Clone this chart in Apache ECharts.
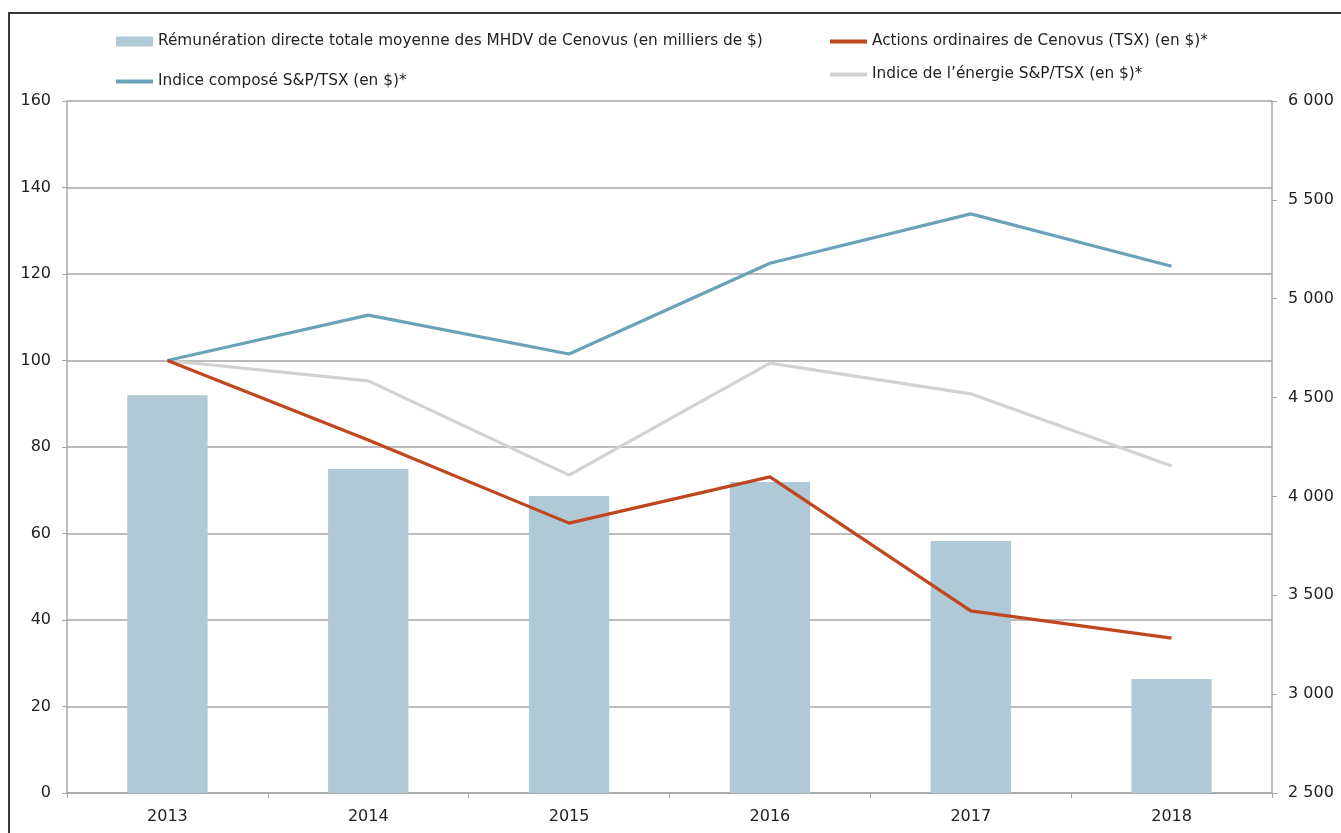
<!DOCTYPE html>
<html>
<head>
<meta charset="utf-8">
<script src="https://cdn.jsdelivr.net/npm/echarts@6/dist/echarts.min.js"></script>
<style>
html,body{margin:0;padding:0;background:#fff;overflow:hidden;width:1341px;height:833px;}
#frame{position:absolute;left:8px;top:12px;width:1400px;height:900px;border-left:2px solid #3a3a3a;border-top:2px solid #3a3a3a;}
#chart{position:absolute;left:0;top:0;width:1341px;height:833px;}
</style>
</head>
<body>
<div id="frame"></div>
<div id="chart"></div>
<script>
const years = ['2013','2014','2015','2016','2017','2018'];
const remuneration = [4512, 4139, 4002, 4073, 3775, 3077];
const cenovus = [100, 81.6, 62.4, 73.1, 42.1, 35.8];
const composite = [100, 110.5, 101.5, 122.5, 133.9, 121.8];
const energy = [100, 95.3, 73.5, 99.4, 92.3, 75.6];
const names = [
  'Rémunération directe totale moyenne des MHDV de Cenovus (en milliers de $)',
  'Actions ordinaires de Cenovus (TSX) (en $)*',
  'Indice composé S&P/TSX (en $)*',
  'Indice de l’énergie S&P/TSX (en $)*'
];
const colors = {bar:'#b0c9d6', cenovus:'#c0461f', composite:'#6aa3b9', energy:'#d2d2d2'};
const font = 'DejaVu Sans';
const fmtSpace = v => String(v).replace(/\B(?=(\d{3})+(?!\d))/g, '\u00a0');

const chart = echarts.init(document.getElementById('chart'));
const legendBase = {itemWidth:37, itemGap:0, padding:0, textStyle:{fontFamily:font, fontSize:15.3, color:'#222'}};
chart.setOption({
  animation:false,
  textStyle:{fontFamily:font},
  legend:[
    Object.assign({}, legendBase, {left:116, top:34, data:[{name:names[0], icon:'rect'}], itemHeight:10}),
    Object.assign({}, legendBase, {left:830, top:34, data:[{name:names[1], icon:'rect'}], itemHeight:4}),
    Object.assign({}, legendBase, {left:116, top:74, data:[{name:names[2], icon:'rect'}], itemHeight:4}),
    Object.assign({}, legendBase, {left:830, top:67, data:[{name:names[3], icon:'rect'}], itemHeight:4})
  ],
  grid:{left:67, right:69, top:101, bottom:40, containLabel:false},
  xAxis:{
    type:'category', data:years, boundaryGap:true,
    axisLine:{lineStyle:{color:'#a6a6a6', width:1.5}},
    axisTick:{show:true, length:5, lineStyle:{color:'#a6a6a6'}},
    axisLabel:{fontSize:16, color:'#222', margin:16, fontFamily:font}
  },
  yAxis:[
    {type:'value', min:0, max:160, interval:20, position:'left',
     axisLine:{show:true, lineStyle:{color:'#a6a6a6', width:1.5}},
     axisTick:{show:true, length:5, lineStyle:{color:'#a6a6a6'}},
     splitLine:{show:true, lineStyle:{color:'#a6a6a6', width:1.5}},
     axisLabel:{fontSize:16, color:'#222', margin:16, fontFamily:font}},
    {type:'value', min:2500, max:6000, interval:500, position:'right',
     axisLine:{show:true, lineStyle:{color:'#a6a6a6', width:1.5}},
     axisTick:{show:true, length:5, lineStyle:{color:'#a6a6a6'}},
     splitLine:{show:false},
     axisLabel:{fontSize:16, color:'#222', margin:16, fontFamily:font, formatter:fmtSpace}}
  ],
  series:[
    {name:names[0], type:'bar', yAxisIndex:1, data:remuneration, barWidth:'40%', itemStyle:{color:colors.bar}, clip:true, z:1},
    {name:names[1], type:'line', yAxisIndex:0, data:cenovus, showSymbol:false, symbol:'none', lineStyle:{color:colors.cenovus, width:3.2}, itemStyle:{color:colors.cenovus}, z:4},
    {name:names[2], type:'line', yAxisIndex:0, data:composite, showSymbol:false, symbol:'none', lineStyle:{color:colors.composite, width:3.2}, itemStyle:{color:colors.composite}, z:3},
    {name:names[3], type:'line', yAxisIndex:0, data:energy, showSymbol:false, symbol:'none', lineStyle:{color:colors.energy, width:3.2}, itemStyle:{color:colors.energy}, z:2}
  ]
});
</script>
</body>
</html>
